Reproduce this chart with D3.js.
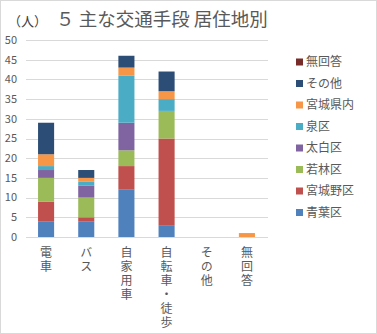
<!DOCTYPE html>
<html>
<head>
<meta charset="utf-8">
<script src="https://cdn.jsdelivr.net/npm/d3@7"></script>
<style>
  body { margin: 0; background: #fff; }
  text { font-family: "Noto Sans CJK JP", "Noto Sans", sans-serif; }
</style>
</head>
<body>
<div id="chart"></div>
<script>
var categories = ["電車", "バス", "自家用車", "自転車・徒歩", "その他", "無回答"];
var seriesNames = ["青葉区", "宮城野区", "若林区", "太白区", "泉区", "宮城県内", "その他", "無回答"];
var seriesColors = ["#4F81BD", "#C0504D", "#9BBB59", "#8064A2", "#4BACC6", "#F79646", "#2C4D75", "#772C2A"];
var aoba      = [4, 4, 12, 3, 0, 0];
var miyagino  = [5, 1, 6, 22, 0, 0];
var wakabayashi = [6, 5, 4, 7, 0, 0];
var taihaku   = [2, 3, 7, 0, 0, 0];
var izumi     = [1, 1, 12, 3, 0, 0];
var kennai    = [3, 1, 2, 2, 0, 1];
var sonota    = [8, 2, 3, 5, 0, 0];
var mukaitou  = [0, 0, 0, 0, 0, 0];
var yTicks = [0, 5, 10, 15, 20, 25, 30, 35, 40, 45, 50];

var seriesValues = [aoba, miyagino, wakabayashi, taihaku, izumi, kennai, sonota, mukaitou];

var width = 377, height = 334;
var svg = d3.select("#chart").append("svg")
    .attr("width", width)
    .attr("height", height);

svg.append("rect")
    .attr("x", 0.5).attr("y", 0.5)
    .attr("width", width - 1).attr("height", height - 1)
    .attr("fill", "#fff")
    .attr("stroke", "#d9d9d9");

var x = d3.scaleBand().domain(categories).range([26, 267]).paddingInner(0.6).paddingOuter(0.3);
var y = d3.scaleLinear().domain([0, 50]).range([237, 40]);

// gridlines
svg.append("g").selectAll("line")
    .data(yTicks)
    .enter().append("line")
    .attr("x1", 26).attr("x2", 268)
    .attr("y1", function(d) { return Math.round(y(d)) + 0.5; })
    .attr("y2", function(d) { return Math.round(y(d)) + 0.5; })
    .attr("stroke", "#d9d9d9");

// y tick labels
svg.append("g").selectAll("text")
    .data(yTicks)
    .enter().append("text")
    .attr("x", 17)
    .attr("y", function(d) { return y(d); })
    .attr("dy", "0.35em")
    .attr("text-anchor", "end")
    .attr("font-size", "11px")
    .attr("fill", "#595959")
    .text(function(d) { return d; });

// stacked data
var rows = categories.map(function(c, i) {
    var r = { cat: c };
    seriesNames.forEach(function(s, j) { r[s] = seriesValues[j][i]; });
    return r;
});
var stacked = d3.stack().keys(seriesNames)(rows);

svg.append("g").selectAll("g")
    .data(stacked)
    .enter().append("g")
    .attr("fill", function(d, i) { return seriesColors[i]; })
    .selectAll("rect")
    .data(function(d) { return d; })
    .enter().append("rect")
    .attr("x", function(d) { return x(d.data.cat); })
    .attr("width", x.bandwidth())
    .attr("y", function(d) { return y(d[1]); })
    .attr("height", function(d) { return y(d[0]) - y(d[1]); });

// vertical category labels
svg.append("g").selectAll("text")
    .data(categories)
    .enter().append("text")
    .attr("x", function(d) { return x(d) + x.bandwidth() / 2; })
    .attr("y", 246)
    .attr("writing-mode", "vertical-rl")
    .attr("letter-spacing", "2px")
    .attr("font-size", "12px")
    .attr("fill", "#595959")
    .text(function(d) { return d; });

// title
svg.append("text")
    .attr("x", 8).attr("y", 26)
    .attr("font-size", "13px")
    .attr("fill", "#404040")
    .text("（人）");

svg.append("text")
    .attr("x", 56).attr("y", 26)
    .attr("font-size", "18.5px")
    .attr("fill", "#595959")
    .text("５ 主な交通手段 居住地別");

// legend (reverse order)
var legendItems = seriesNames.map(function(s, i) { return { name: s, color: seriesColors[i] }; }).reverse();
var legend = svg.append("g").selectAll("g")
    .data(legendItems)
    .enter().append("g")
    .attr("transform", function(d, i) { return "translate(296," + (62 + i * 21.5) + ")"; });

legend.append("rect")
    .attr("x", 0).attr("y", -3.5)
    .attr("width", 7).attr("height", 7)
    .attr("fill", function(d) { return d.color; });

legend.append("text")
    .attr("x", 10).attr("y", 0)
    .attr("dy", "0.35em")
    .attr("font-size", "12px")
    .attr("fill", "#595959")
    .text(function(d) { return d.name; });
</script>
</body>
</html>
